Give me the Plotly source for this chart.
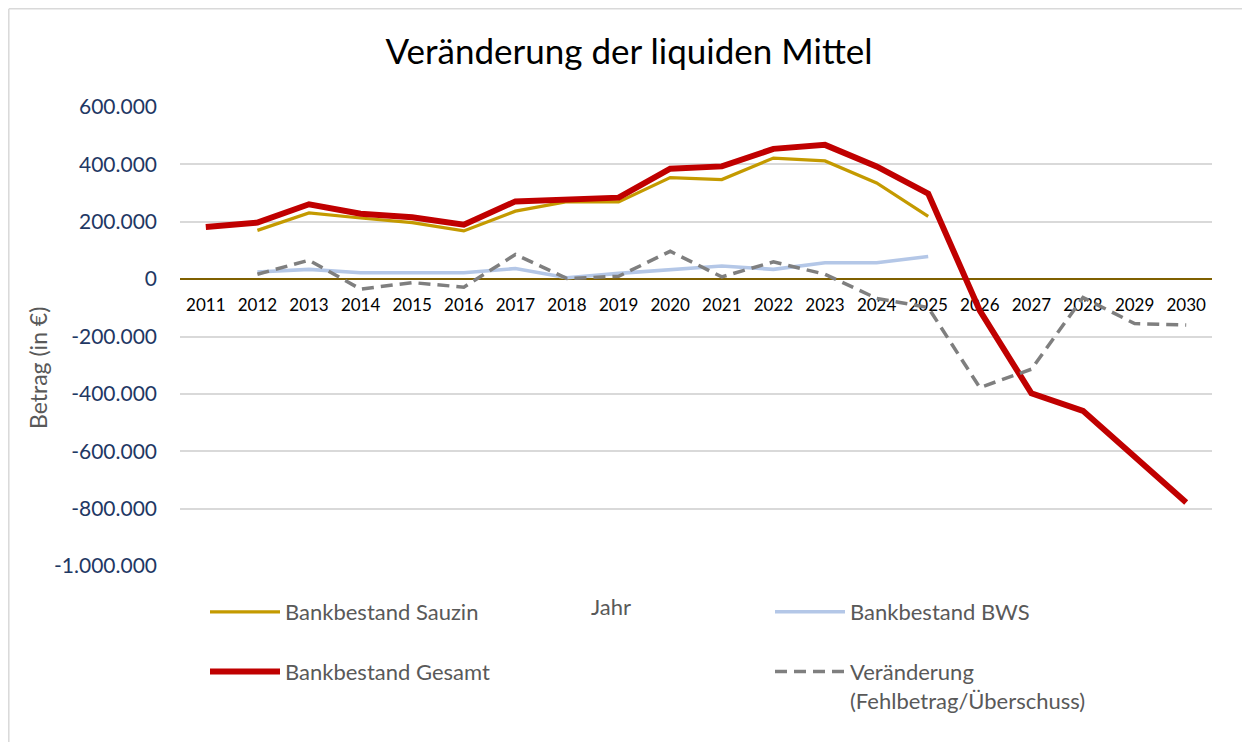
import plotly.graph_objects as go

years = [str(y) for y in range(2011, 2031)]

sauzin_years = [str(y) for y in range(2012, 2026)]
sauzin = [170000, 231000, 213000, 197000, 168000, 237000, 270000, 269000,
          354000, 347000, 422000, 412000, 335000, 219000]

bws_years = [str(y) for y in range(2012, 2026)]
bws = [25000, 34000, 22000, 22000, 22000, 37000, 5000, 20000,
       34000, 46000, 34000, 57000, 57000, 79000]

gesamt_years = [str(y) for y in range(2011, 2031)]
gesamt = [182000, 197000, 261000, 228000, 216000, 190000, 271000, 275000,
          284000, 385000, 393000, 454000, 468000, 393000, 298000,
          -110000, -398000, -459000, -616000, -779000]

ver_years = [str(y) for y in range(2012, 2031)]
veraenderung = [17000, 66000, -35000, -12000, -28000, 86000, 2000, 10000,
                97000, 8000, 60000, 17000, -67000, -99000, -378000,
                -314000, -64000, -155000, -160000]

y_ticks = [600000, 400000, 200000, 0, -200000, -400000, -600000, -800000, -1000000]
y_tick_labels = ["600.000", "400.000", "200.000", "0", "-200.000", "-400.000",
                 "-600.000", "-800.000", "-1.000.000"]

FONT = "Lato"
OFF = 8  # page body margin
W, H = 1250 - OFF, 742 - OFF
L, R, T, B = 180 - OFF, 1212 - OFF, 107 - OFF, 566 - OFF

def px(x):
    return (x - OFF - L) / (R - L)

def py(y):
    return (B - (y - OFF)) / (B - T)

fig = go.Figure()
fig.add_trace(go.Scatter(x=sauzin_years, y=sauzin, mode="lines", name="Bankbestand Sauzin",
                         line=dict(color="#C49A00", width=3.2), legend="legend",
                         legendgroup="a"))
fig.add_trace(go.Scatter(x=bws_years, y=bws, mode="lines", name="Bankbestand BWS",
                         line=dict(color="#B4C7E7", width=3.6), legend="legend2",
                         legendgroup="b"))
fig.add_trace(go.Scatter(x=gesamt_years, y=gesamt, mode="lines", name="Bankbestand Gesamt",
                         line=dict(color="#C00000", width=6), legend="legend",
                         legendgroup="c"))
fig.add_trace(go.Scatter(x=ver_years, y=veraenderung, mode="lines",
                         name="Veränderung<br>(Fehlbetrag/Überschuss)",
                         line=dict(color="#7F7F7F", width=3.5, dash="12px,7px"),
                         legend="legend2", legendgroup="d"))

zero_pos = (0 - (-1000000)) / 1600000

legend_common = dict(font=dict(family=FONT, size=22, color="#595959"),
                     bgcolor="rgba(0,0,0,0)", itemwidth=70, tracegroupgap=28,
                     valign="top", yanchor="top", xanchor="left", orientation="v")

fig.update_layout(
    width=W, height=H,
    margin=dict(l=L, r=W - R, t=T, b=H - B),
    paper_bgcolor="white", plot_bgcolor="white",
    title=dict(text="Veränderung der liquiden Mittel", x=(629 - OFF) / W, xanchor="center",
               y=1 - (52 - OFF) / H, yanchor="middle",
               font=dict(family=FONT, size=35, color="black")),
    xaxis=dict(type="category", categoryorder="array", categoryarray=years,
               range=[-0.5, 19.5], anchor="free", position=zero_pos,
               showline=True, linecolor="#7F6000", linewidth=2, showgrid=False,
               ticks="", ticklabelstandoff=10, layer="below traces",
               tickfont=dict(family=FONT, size=17, color="black")),
    yaxis=dict(range=[-1000000, 600000], tickvals=y_ticks, ticktext=y_tick_labels,
               showgrid=True, gridcolor="#D9D9D9", gridwidth=1.5, zeroline=False,
               showline=False, ticks="", ticklabelstandoff=22,
               tickfont=dict(family=FONT, size=21, color="#1F3864")),
    legend=dict(x=px(205), y=py(591), **legend_common),
    legend2=dict(x=px(770), y=py(591), **legend_common),
    annotations=[
        dict(text="Jahr", x=px(611), y=py(606), xref="paper", yref="paper",
             xanchor="center", yanchor="middle",
             showarrow=False, font=dict(family=FONT, size=22, color="#595959")),
        dict(text="Betrag (in €)", x=px(38), y=py(368), xref="paper", yref="paper",
             xanchor="center", yanchor="middle",
             showarrow=False, textangle=-90, font=dict(family=FONT, size=23, color="#595959")),
    ],
    shapes=[
        dict(type="line", xref="paper", yref="paper", x0=px(9), x1=px(1250),
             y0=py(8.8), y1=py(8.8), line=dict(color="#D9D9D9", width=1.5), layer="below"),
        dict(type="line", xref="paper", yref="paper", x0=px(8.8), x1=px(8.8),
             y0=py(8.8), y1=py(742), line=dict(color="#D9D9D9", width=1.5), layer="below"),
    ],
)

fig.write_html("out.html")
